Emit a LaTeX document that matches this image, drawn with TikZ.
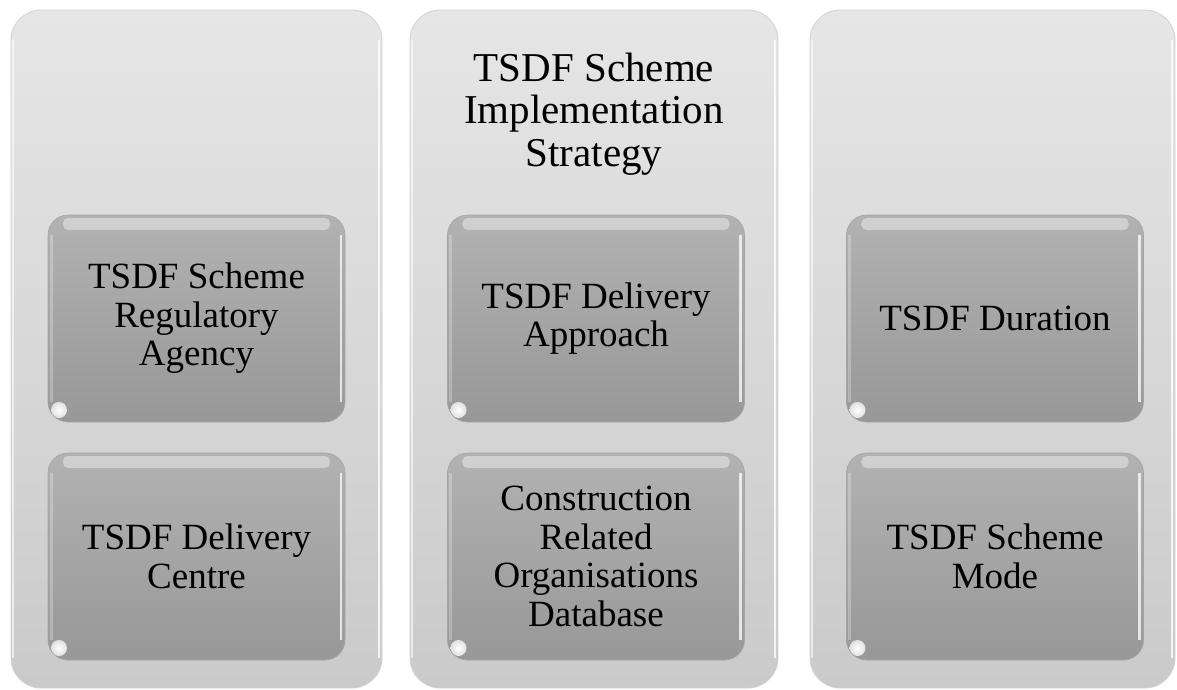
\documentclass[tikz,border=0pt]{standalone}
\usepackage{fontspec}
\setmainfont{Liberation Serif}

\definecolor{panelTop}{HTML}{E6E6E6}
\definecolor{panelBot}{HTML}{CACACA}
\definecolor{panelRim}{HTML}{D2D2D2}
\definecolor{tileTop}{HTML}{B2B2B2}
\definecolor{tileBot}{HTML}{989898}
\definecolor{tileRim}{HTML}{8E8E8E}

\tikzset{
  panel/.style={
    rounded corners=30pt, top color=panelTop, bottom color=panelBot,
    draw=panelRim, line width=0.8pt, inner sep=0pt,
    minimum height=678pt,
    path picture={
      % glossy rim along the top edge
      \shade[rounded corners=4pt, top color=panelTop, middle color=white, bottom color=panelTop]
        ([xshift=24pt,yshift=-1pt]path picture bounding box.north west)
        rectangle ([xshift=-24pt,yshift=-9pt]path picture bounding box.north east);
      % light rim along the right edge
      \draw[sharp corners, white, line width=2pt, opacity=0.8]
        ([xshift=-3pt,yshift=-30pt]path picture bounding box.north east)
        -- ([xshift=-3pt,yshift=30pt]path picture bounding box.south east);
      % light rim along the left edge
      \draw[sharp corners, white, line width=1.2pt, opacity=0.6]
        ([xshift=2pt,yshift=-30pt]path picture bounding box.north west)
        -- ([xshift=2pt,yshift=30pt]path picture bounding box.south west);
    }},
  tile/.style={
    rounded corners=20pt, top color=tileTop, bottom color=tileBot,
    draw=tileRim!80, line width=0.6pt, inner sep=0pt,
    minimum width=297pt, minimum height=207pt,
    align=center, font=\fontsize{37}{38.5}\selectfont,
    path picture={
      % glossy band below the top edge
      \shade[rounded corners=5pt, top color=tileTop!60!white, middle color=white, bottom color=tileTop]
        ([xshift=15pt,yshift=-3pt]path picture bounding box.north west)
        rectangle ([xshift=-15pt,yshift=-15pt]path picture bounding box.north east);
      % light rim along the right edge
      \draw[sharp corners, white, line width=2.2pt, opacity=0.75]
        ([xshift=-4pt,yshift=-20pt]path picture bounding box.north east)
        -- ([xshift=-4pt,yshift=20pt]path picture bounding box.south east);
      % soft lighter strip along the left edge
      \draw[sharp corners, white, line width=3pt, opacity=0.25]
        ([xshift=3pt,yshift=-20pt]path picture bounding box.north west)
        -- ([xshift=3pt,yshift=20pt]path picture bounding box.south west);
      % bright spot in the lower left corner
      \shade[inner color=white, outer color=white!70!tileBot]
        ([xshift=11pt,yshift=12pt]path picture bounding box.south west) circle (8pt);
    }},
  heading/.style={align=center, font=\fontsize{41}{42.5}\selectfont, inner sep=0pt}
}

\begin{document}
\begin{tikzpicture}[x=1pt,y=-1pt]
  \useasboundingbox (0,0) rectangle (1177,689);

  % three columns
  \node[panel, minimum width=371pt] (left)  at (196.5,349) {};
  \node[panel, minimum width=368pt] (mid)   at (594,349)   {};
  \node[panel, minimum width=365pt] (right) at (992.5,349) {};

  % column heading
  \node[heading] (title) at (594,114) {TSDF Scheme\\Implementation\\Strategy};

  % boxes of the left column
  \node[tile] (agency) at (196.5,318.5) {TSDF Scheme\\Regulatory\\Agency};
  \node[tile] (centre) at (196.5,556.5) {TSDF Delivery\\Centre};

  % boxes of the middle column
  \node[tile] (approach) at (596,318.5) {TSDF Delivery\\Approach};
  \node[tile] (database) at (596,556.5) {Construction\\Related\\Organisations\\Database};

  % boxes of the right column
  \node[tile] (duration) at (995,318.5) {TSDF Duration};
  \node[tile] (mode)     at (995,556.5) {TSDF Scheme\\Mode};
\end{tikzpicture}
\end{document}
